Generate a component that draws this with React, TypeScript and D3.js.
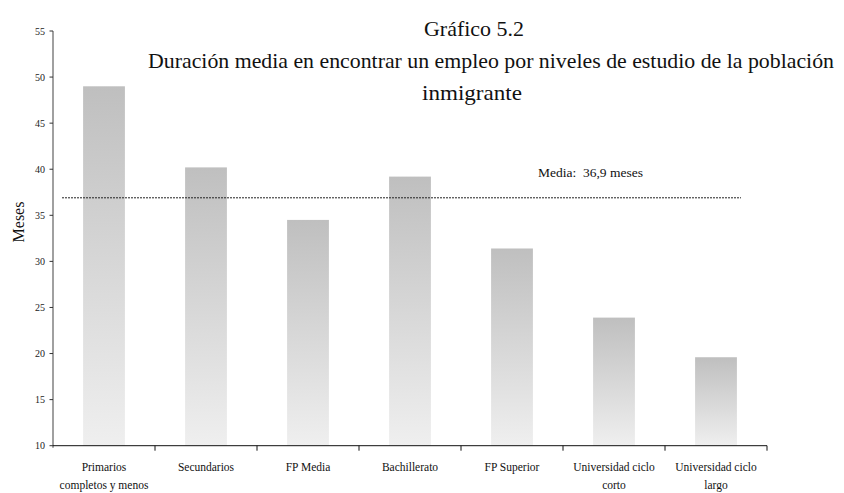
import React from 'react';
import * as d3 from 'd3';

const categories = [
  'Primarios completos y menos',
  'Secundarios',
  'FP Media',
  'Bachillerato',
  'FP Superior',
  'Universidad ciclo corto',
  'Universidad ciclo largo',
];
const labelLines = [
  ['Primarios', 'completos y menos'],
  ['Secundarios'],
  ['FP Media'],
  ['Bachillerato'],
  ['FP Superior'],
  ['Universidad ciclo', 'corto'],
  ['Universidad ciclo', 'largo'],
];
const values = [49.0, 40.2, 34.5, 39.2, 31.4, 23.9, 19.6];
const yTicks = [10, 15, 20, 25, 30, 35, 40, 45, 50, 55];
const mediaValue = 36.9;
const mediaLabel = 'Media:  36,9 meses';
const titleLines = [
  'Gráfico 5.2',
  'Duración media en encontrar un empleo por niveles de estudio de la población',
  'inmigrante',
];

const W = 844;
const H = 493;
const serif = 'Liberation Serif';

export default function App() {
  const x = d3.scaleBand<string>().domain(categories).range([53, 767]).padding(0);
  const y = d3.scaleLinear().domain([10, 55]).range([445.7, 31]);
  const barW = x.bandwidth() * 0.41;
  const y0 = y(10);

  return (
    <svg width={W} height={H} style={{ position: 'absolute', left: 0, top: 0, background: '#fff' }}>
      <defs>
        <linearGradient id="barGrad" x1="0" y1="0" x2="0" y2="1">
          <stop offset="0%" stopColor="#bfbfbf" />
          <stop offset="100%" stopColor="#efefef" />
        </linearGradient>
      </defs>

      {/* bars */}
      {categories.map((c, i) => (
        <rect
          key={c}
          x={(x(c) as number) + (x.bandwidth() - barW) / 2}
          y={y(values[i])}
          width={barW}
          height={y0 - y(values[i])}
          fill="url(#barGrad)"
        />
      ))}

      {/* media line */}
      <line
        x1={62}
        x2={741}
        y1={y(mediaValue)}
        y2={y(mediaValue)}
        stroke="#222"
        strokeWidth={1}
        strokeDasharray="2,1"
      />
      <text x={538} y={y(mediaValue) - 21} fontFamily={serif} fontSize={13.5} fill="#111" style={{ whiteSpace: 'pre' }}>
        {mediaLabel}
      </text>

      {/* y axis */}
      <line x1={53} x2={53} y1={y(55)} y2={y0 + 2} stroke="#808080" strokeWidth={1.5} />
      {yTicks.map((t) => (
        <g key={t}>
          <line x1={49.5} x2={53} y1={y(t)} y2={y(t)} stroke="#333" strokeWidth={1} />
          <text x={45} y={y(t) + 3.5} textAnchor="end" fontFamily={serif} fontSize={10} fill="#222">
            {t}
          </text>
        </g>
      ))}
      <text
        transform={`translate(24,222) rotate(-90)`}
        textAnchor="middle"
        fontFamily={serif}
        fontSize={16}
        fill="#111"
      >
        Meses
      </text>

      {/* x axis */}
      <line x1={53} x2={767} y1={y0} y2={y0} stroke="#111" strokeWidth={1} />
      {categories.map((c) => (
        <line
          key={c}
          x1={(x(c) as number) + x.bandwidth()}
          x2={(x(c) as number) + x.bandwidth()}
          y1={y0}
          y2={y0 + 5}
          stroke="#111"
          strokeWidth={1}
        />
      ))}
      {categories.map((c, i) => (
        <text key={c} textAnchor="middle" fontFamily={serif} fontSize={11.5} fill="#111">
          {labelLines[i].map((l, j) => (
            <tspan key={j} x={(x(c) as number) + x.bandwidth() / 2} y={471 + j * 18}>
              {l}
            </tspan>
          ))}
        </text>
      ))}

      {/* title */}
      <text x={474} y={36} textAnchor="middle" fontFamily={serif} fontSize={22} fill="#111" textLength={100} lengthAdjust="spacingAndGlyphs">
        {titleLines[0]}
      </text>
      <text x={491} y={68} textAnchor="middle" fontFamily={serif} fontSize={21} fill="#111" textLength={686} lengthAdjust="spacingAndGlyphs">
        {titleLines[1]}
      </text>
      <text x={472} y={100} textAnchor="middle" fontFamily={serif} fontSize={22} fill="#111" textLength={100} lengthAdjust="spacingAndGlyphs">
        {titleLines[2]}
      </text>
    </svg>
  );
}
